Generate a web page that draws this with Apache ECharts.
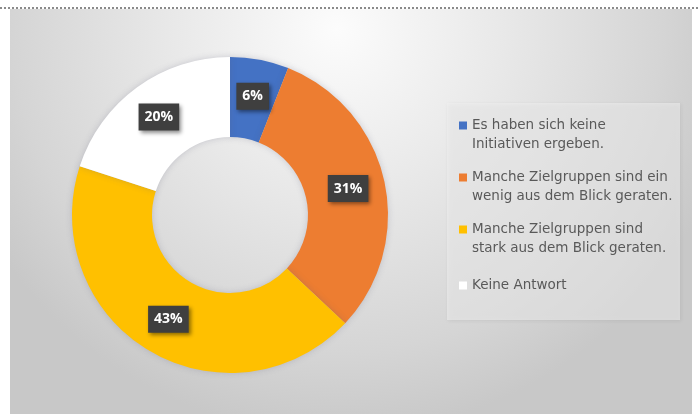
<!DOCTYPE html>
<html>
<head>
<meta charset="utf-8">
<script src="https://cdn.jsdelivr.net/npm/echarts@6/dist/echarts.min.js"></script>
<style>
  html, body { margin: 0; padding: 0; background: #ffffff; }
  #topline { position: absolute; left: 0; top: 7px; width: 698px; height: 0; border-top: 2px dotted #8a8a8a; }
  #chart { position: absolute; left: 10px; top: 9px; width: 682px; height: 405px; }
</style>
</head>
<body>
<div id="topline"></div>
<div id="chart"></div>
<script>
// Survey answers and their shares (percent)
const categories = [
  'Es haben sich keine\nInitiativen ergeben.',
  'Manche Zielgruppen sind ein\nwenig aus dem Blick geraten.',
  'Manche Zielgruppen sind\nstark aus dem Blick geraten.',
  'Keine Antwort'
];
const shares = [6, 31, 43, 20];
const sliceColors = ['#4472C4', '#ED7D31', '#FFC000', '#FFFFFF'];

// Legend markers: a square sitting beside the first text line of each entry
const markerFirstLine = 'path://M0,0H8V8H0ZM0,27L0.01,27';
const markerCentered = 'path://M0,0L0.01,0M0,9.5H8V17.5H0ZM0,27L0.01,27';

const chart = echarts.init(document.getElementById('chart'), null, { renderer: 'canvas' });

chart.setOption({
  backgroundColor: {
    type: 'radial', x: 0.48, y: 0.05, r: 1.0,
    colorStops: [
      { offset: 0, color: '#fcfcfc' },
      { offset: 0.4, color: '#e9e9e9' },
      { offset: 0.8, color: '#d5d5d5' },
      { offset: 1, color: '#c8c8c8' }
    ]
  },
  animation: false,
  color: sliceColors,
  graphic: [{
    type: 'rect',
    shape: { x: 437, y: 94, width: 233, height: 217 },
    style: { fill: 'rgba(240,240,240,0.55)', shadowBlur: 4, shadowColor: 'rgba(0,0,0,0.12)', shadowOffsetX: 1, shadowOffsetY: 1 },
    z: 0
  }],
  legend: {
    orient: 'vertical',
    left: 444,
    top: 102,
    itemWidth: 8,
    itemHeight: 27,
    itemGap: 14,
    textStyle: {
      fontFamily: 'DejaVu Sans',
      fontSize: 13.5,
      color: '#595959',
      lineHeight: 19
    },
    data: categories.map(name => ({
      name: name,
      icon: name.indexOf('\n') >= 0 ? markerFirstLine : markerCentered
    }))
  },
  series: [{
    type: 'pie',
    center: [220, 206],
    radius: [78, 158],
    startAngle: 90,
    clockwise: true,
    avoidLabelOverlap: false,
    itemStyle: {
      shadowBlur: 6,
      shadowColor: 'rgba(90,90,120,0.25)'
    },
    label: {
      show: true,
      position: 'inside',
      formatter: '{c}%',
      color: '#ffffff',
      fontFamily: 'Open Sans',
      fontWeight: 'bold',
      fontSize: 14,
      backgroundColor: '#3f3f3f',
      padding: [7, 6, 6, 6],
      shadowBlur: 4,
      shadowColor: 'rgba(0,0,0,0.45)',
      shadowOffsetX: 2,
      shadowOffsetY: 2
    },
    labelLine: { show: false },
    emphasis: { disabled: true },
    data: categories.map((name, i) => ({ name: name, value: shares[i] }))
  }]
});
</script>
</body>
</html>
